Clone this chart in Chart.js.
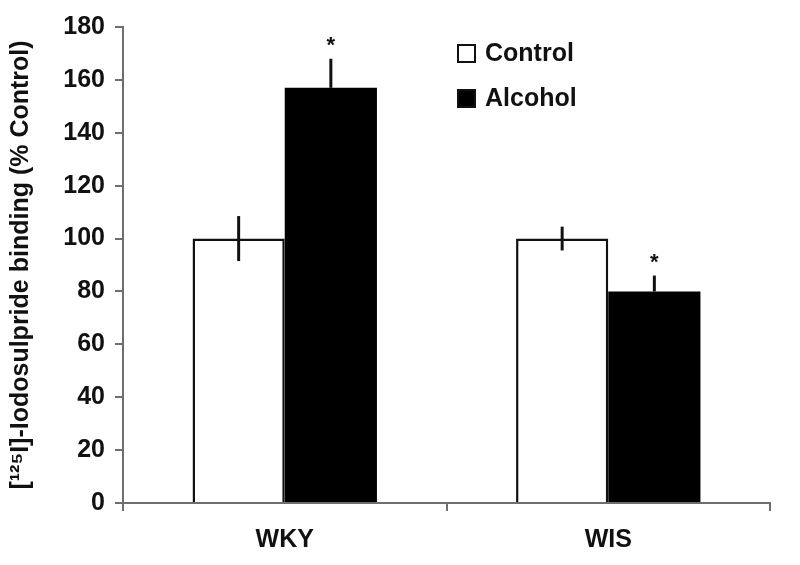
<!DOCTYPE html>
<html>
<head>
<meta charset="utf-8">
<script src="https://cdn.jsdelivr.net/npm/chart.js@4"></script>
<style>
  html, body { margin: 0; padding: 0; background: #fff; }
  #wrap { width: 800px; height: 565px; }
</style>
</head>
<body>
<div id="wrap"><canvas id="bindingChart" width="800" height="565"></canvas></div>
<script>
// data
const strains = ['WKY', 'WIS'];
const controlValues = [100, 100];
const controlErrors = [8.5, 4.5];
const alcoholValues = [157, 80];
const alcoholErrors = [11, 6];
const significantAlcohol = [true, true];   // asterisk above alcohol bar
const yTicks = [0, 20, 40, 60, 80, 100, 120, 140, 160, 180];

const FONT = '"Liberation Sans", Arial, sans-serif';
const AXIS = '#6e6e6e';

// error bars, asterisks and legend drawn on top of the bars
const extras = {
  id: 'extras',
  afterDatasetsDraw(chart) {
    const ctx = chart.ctx;
    const y = chart.scales.y;
    const errs = [controlErrors, alcoholErrors];
    ctx.save();
    ctx.strokeStyle = '#111';
    ctx.lineWidth = 3;
    chart.data.datasets.forEach((ds, di) => {
      chart.getDatasetMeta(di).data.forEach((bar, i) => {
        const v = ds.data[i];
        const e = errs[di][i];
        // the lower half of the alcohol bar's error is hidden in the black fill
        const lo = di === 1 ? v : v - e;
        ctx.beginPath();
        ctx.moveTo(bar.x, y.getPixelForValue(lo));
        ctx.lineTo(bar.x, y.getPixelForValue(v + e));
        ctx.stroke();
        if (di === 1 && significantAlcohol[i]) {
          ctx.fillStyle = '#111';
          ctx.font = 'bold 22px ' + FONT;
          ctx.textAlign = 'center';
          ctx.textBaseline = 'bottom';
          ctx.fillText('*', bar.x, y.getPixelForValue(v + e) - 2);
        }
      });
    });

    // legend
    const lx = 458;
    chart.data.datasets.forEach((ds, k) => {
      const cy = 53 + k * 45;
      ctx.fillStyle = ds.backgroundColor;
      ctx.fillRect(lx, cy - 8, 17, 17);
      ctx.strokeStyle = '#111';
      ctx.lineWidth = 2;
      ctx.strokeRect(lx, cy - 8, 17, 17);
      ctx.fillStyle = '#111';
      ctx.font = 'bold 25px ' + FONT;
      ctx.textAlign = 'left';
      ctx.textBaseline = 'middle';
      ctx.fillText(ds.label, lx + 27, cy + 1);
    });
    ctx.restore();
  }
};

new Chart(document.getElementById('bindingChart'), {
  type: 'bar',
  data: {
    labels: strains,
    datasets: [
      {
        label: 'Control',
        data: controlValues,
        backgroundColor: '#fff',
        borderColor: '#111',
        borderWidth: 2.5
      },
      {
        label: 'Alcohol',
        data: alcoholValues,
        backgroundColor: '#000',
        borderColor: '#000',
        borderWidth: 0
      }
    ]
  },
  options: {
    responsive: false,
    animation: false,
    layout: { padding: { top: 27, right: 30, left: 0, bottom: 0 } },
    datasets: {
      bar: { categoryPercentage: 0.57, barPercentage: 1.0 }
    },
    plugins: {
      legend: { display: false },
      tooltip: { enabled: false }
    },
    scales: {
      x: {
        grid: { display: true, drawOnChartArea: false, drawTicks: true, tickLength: 8, color: AXIS, lineWidth: 2 },
        border: { display: true, color: AXIS, width: 2 },
        ticks: { color: '#111', font: { family: FONT, size: 25, weight: 'bold' }, padding: 14 },
        afterFit(scale) { scale.height = 62; }
      },
      y: {
        min: 0,
        max: 180,
        afterBuildTicks(scale) { scale.ticks = yTicks.map(v => ({ value: v })); },
        grid: { display: true, drawOnChartArea: false, drawTicks: true, tickLength: 8, color: AXIS, lineWidth: 2 },
        border: { display: true, color: AXIS, width: 2 },
        ticks: { color: '#111', font: { family: FONT, size: 25, weight: 'bold' }, padding: 10 },
        title: {
          display: true,
          text: '[\u00b9\u00b2\u2075I]-Iodosulpride binding (% Control)',
          color: '#111',
          font: { family: FONT, size: 25, weight: 'bold' },
          padding: { top: 6, bottom: 4 }
        },
        afterFit(scale) { scale.width = 123; }
      }
    }
  },
  plugins: [extras]
});
</script>
</body>
</html>
